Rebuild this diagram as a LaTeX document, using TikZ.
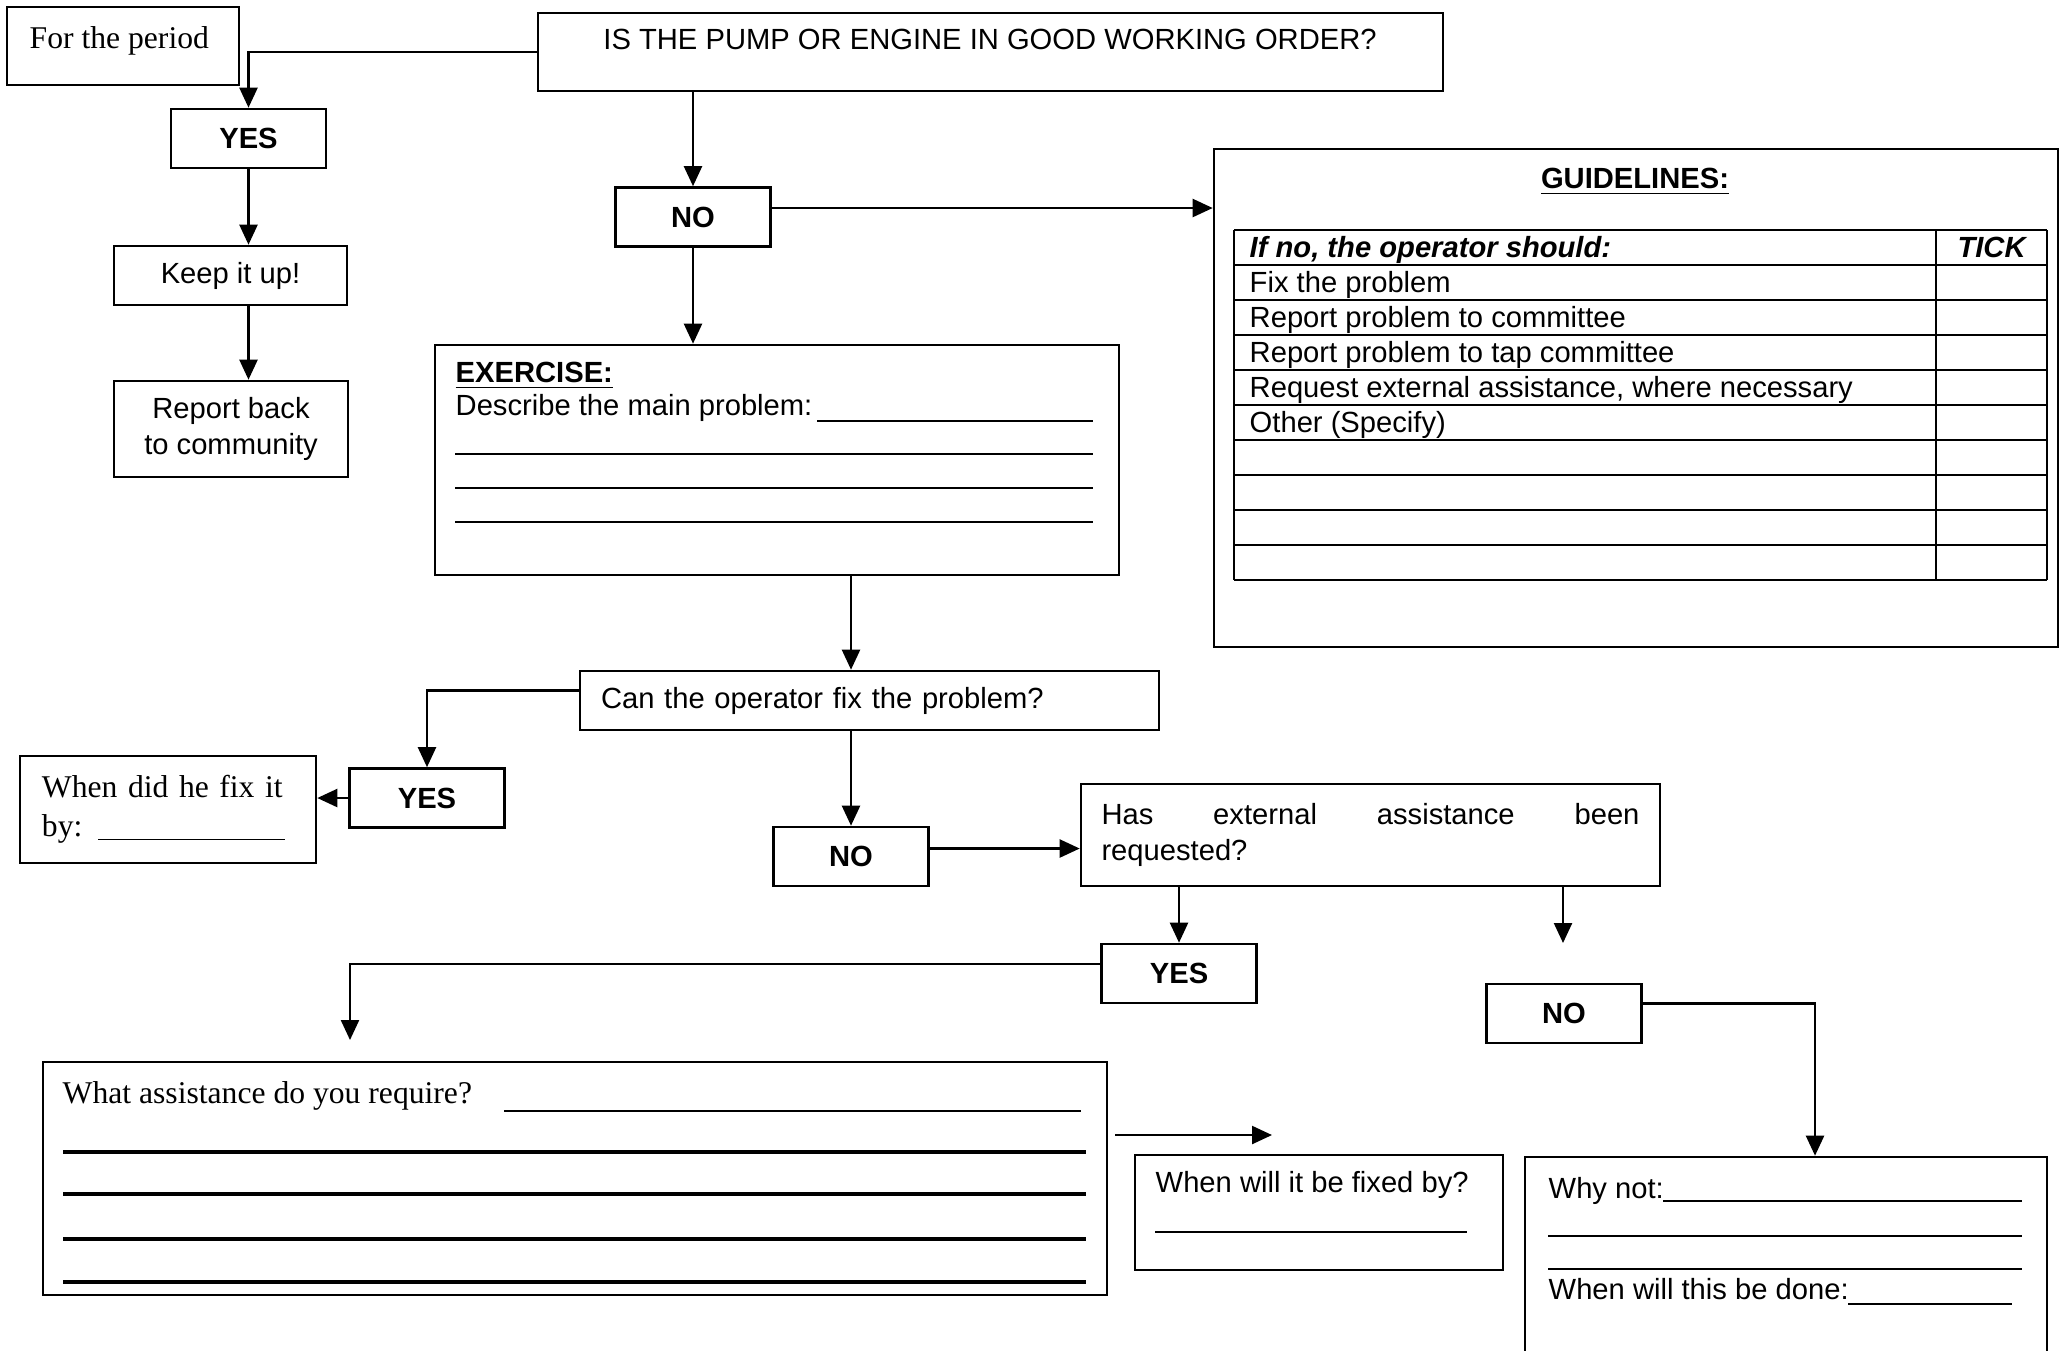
\documentclass[tikz,border=0pt]{standalone}
\usepackage{fontspec}
\setmainfont{Liberation Sans}
\newfontfamily\timesfont{Liberation Serif}
\usetikzlibrary{arrows.meta}
\newcommand\sfsz{\fontsize{8.3}{10}\selectfont}
\newcommand\rmsz{\fontsize{9}{11.2}\selectfont\timesfont}

\begin{document}
\begin{tikzpicture}[font=\sfsz,
	box/.style={draw, line width=0.75pt, inner sep=0pt, align=center},
	yn/.style={box, minimum width=1.55cm, minimum height=0.59cm, font=\sfsz\bfseries},
	arr/.style={line width=0.65pt, -{Triangle[length=0.2cm, width=0.18cm]}},
	txt/.style={anchor=base west, inner sep=0pt}]
	\useasboundingbox (0,0) rectangle (20.62,-13.5);
	\node[box, minimum width=2.32cm, minimum height=0.78cm] (period) at (1.23,-0.46) {};
	\node[txt, font=\rmsz] (periodtxt) at (0.29,-0.48) {For the period};
	\node[box, minimum width=9.05cm, minimum height=0.78cm] (main) at (9.905,-0.52) {};
	\node[anchor=base, inner sep=0pt] (maintxt) at (9.90,-0.495) {IS THE PUMP OR ENGINE IN GOOD WORKING ORDER?};
	\node[yn] (yes1) at (2.485,-1.385) {YES};
	\node[box, minimum width=2.33cm, minimum height=0.59cm] (keep) at (2.305,-2.755) {Keep it up!};
	\node[box, minimum width=2.34cm, minimum height=0.96cm] (report) at (2.31,-4.29) {Report back\\to community};
	\node[yn] (no1) at (6.93,-2.17) {NO};
	\node[box, minimum width=8.44cm, minimum height=4.98cm] (guide) at (16.36,-3.98) {};
	\node[anchor=base, inner sep=0pt, font=\sfsz\bfseries] (guidetitle) at (16.35,-1.88) {\underline{GUIDELINES:}};
	\node[box, minimum width=6.84cm, minimum height=2.30cm] (exercise) at (7.77,-4.60) {};
	\node[txt, font=\sfsz\bfseries] (extitle) at (4.55,-3.82) {\underline{EXERCISE:}};
	\node[txt] (exask) at (4.55,-4.15) {Describe the main problem:};
	\node[box, minimum width=5.79cm, minimum height=0.59cm, text width=5.37cm, align=left] (can) at (8.695,-7.005) {Can the operator fix the problem?};
	\node[yn] (yes2) at (4.27,-7.98) {YES};
	\node[box, font=\rmsz, minimum width=2.96cm, minimum height=1.07cm, text width=2.52cm, align=left] (whendid) at (1.68,-8.095) {\mbox{When did he fix it}\\by: \rule[-1pt]{1.87cm}{0.5pt}};
	\node[yn] (no2) at (8.51,-8.565) {NO};
	\node[box, minimum width=5.79cm, minimum height=1.02cm, text width=5.38cm, align=left] (hasext) at (13.705,-8.35) {\hbox to 5.38cm{Has\hfill external\hfill assistance\hfill been}\\requested?};
	\node[yn] (yes3) at (11.79,-9.735) {YES};
	\node[yn] (no3) at (15.64,-10.135) {NO};
	\node[box, minimum width=10.64cm, minimum height=2.33cm] (assist) at (5.75,-11.785) {};
	\node[txt, font=\rmsz] (assisttxt) at (0.62,-11.03) {What assistance do you require?};
	\node[box, minimum width=3.68cm, minimum height=1.15cm] (fixedby) at (13.19,-12.125) {};
	\node[txt] (fixedtxt) at (11.55,-11.92) {When will it be fixed by?};
	\node[box, minimum width=5.22cm, minimum height=1.96cm] (whynot) at (17.86,-12.55) {};
	\node[txt] (whynottxt) at (15.48,-11.98) {Why not:};
	\node[txt] (whentxt) at (15.48,-12.99) {When will this be done:};
	\foreach \k in {0,...,10} \draw[line width=0.7pt] (12.34,{-2.30-0.35*\k}) -- (20.47,{-2.30-0.35*\k});
	\draw[line width=0.7pt] (12.34,-2.30) -- (12.34,-5.80) (19.36,-2.30) -- (19.36,-5.80) (20.47,-2.30) -- (20.47,-5.80);
	\node[txt, font=\sfsz\bfseries\itshape] (rowhead) at (12.49,-2.57) {If no, the operator should:};
	\node[anchor=base, inner sep=0pt, font=\sfsz\bfseries\itshape] (tick) at (19.915,-2.57) {TICK};
	\foreach \t [count=\k] in {Fix the problem, Report problem to committee, Report problem to tap committee, {Request external assistance, where necessary}, Other (Specify)}
		\node[txt] (row\k) at (12.49,{-2.57-0.35*\k}) {\t};
	\draw[line width=0.55pt] (8.17,-4.21) -- (10.93,-4.21) (4.55,-4.54) -- (10.93,-4.54) (4.55,-4.88) -- (10.93,-4.88) (4.55,-5.22) -- (10.93,-5.22);
	\draw[line width=0.55pt] (5.04,-11.11) -- (10.81,-11.11);
	\foreach \y in {11.52,11.94,12.39,12.82} \draw[line width=1.1pt] (0.63,-\y) -- (10.86,-\y);
	\draw[line width=0.55pt] (11.55,-12.32) -- (14.67,-12.32) (16.63,-12.01) -- (20.22,-12.01) (15.48,-12.36) -- (20.22,-12.36) (15.48,-12.69) -- (20.22,-12.69) (18.48,-13.04) -- (20.12,-13.04);
	\coordinate (g1) at ([yshift=0.09cm]no1.east);
	\coordinate (c1) at ([yshift=0.1cm]can.west);
	\coordinate (n2) at ([yshift=0.08cm]no2.east);
	\coordinate (y3) at ([yshift=0.095cm]yes3.west);
	\coordinate (n3) at ([yshift=0.1cm]no3.east);
	\coordinate (a1) at (3.50,-10.40);
	\coordinate (a2) at (15.63,-9.43);
	\coordinate (f1) at (11.15,-11.35);
	\coordinate (f2) at (12.72,-11.35);
	\draw[arr] (main.west) -| (yes1.north);
	\draw[arr] (yes1.south) -- (yes1.south |- keep.north);
	\draw[arr] (yes1.south |- keep.south) -- (yes1.south |- report.north);
	\draw[arr] (no1.north |- main.south) -- (no1.north);
	\draw[arr] (g1) -- (g1 -| guide.west);
	\draw[arr] (no1.south) -- (no1.south |- exercise.north);
	\draw[arr] (no2.north |- exercise.south) -- (no2.north |- can.north);
	\draw[arr] (c1) -| (yes2.north);
	\draw[arr] (yes2.west) -- (yes2.west -| whendid.east);
	\draw[arr] (no2.north |- can.south) -- (no2.north);
	\draw[arr] (n2) -- (n2 -| hasext.west);
	\draw[arr] (yes3.north |- hasext.south) -- (yes3.north);
	\draw[arr] (y3) -| (a1);
	\draw[arr] (f1) -- (f2);
	\draw[arr] (a2 |- hasext.south) -- (a2);
	\draw[arr] (n3) -| ([xshift=0.29cm]whynot.north);
\end{tikzpicture}
\end{document}
